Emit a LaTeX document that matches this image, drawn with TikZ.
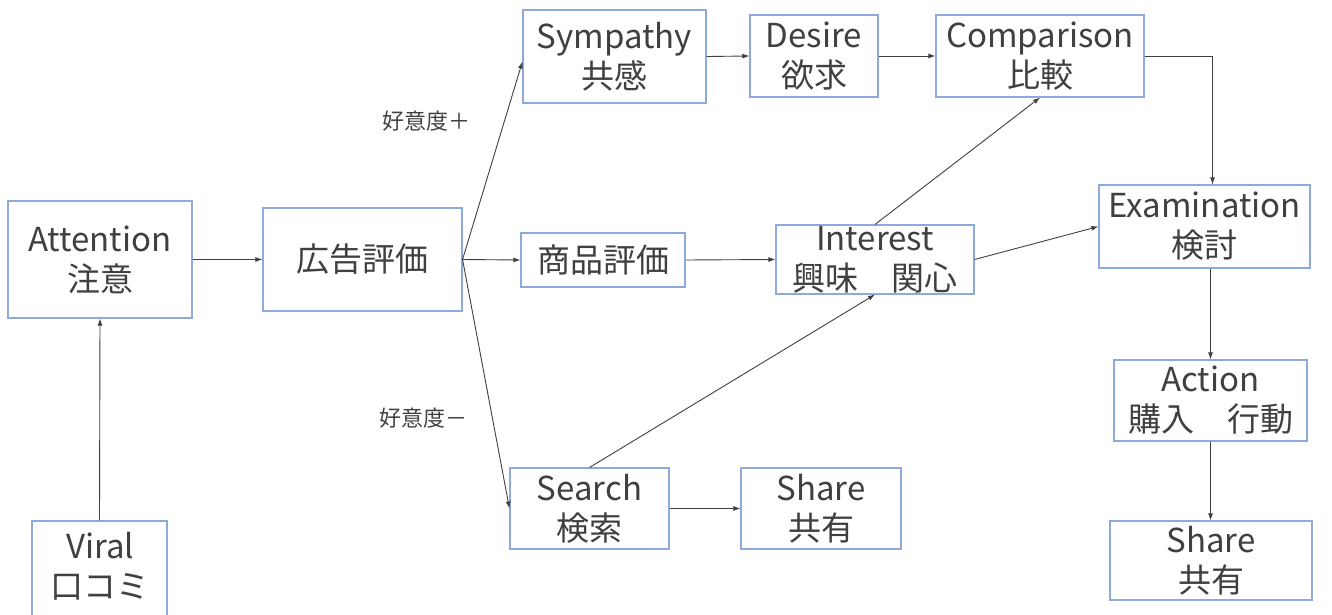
\documentclass[tikz,border=0pt]{standalone}
\usepackage{fontspec}
\setmainfont{Noto Sans CJK JP}
\usetikzlibrary{arrows.meta}
\definecolor{bx}{HTML}{8EA9DB}
\definecolor{tx}{HTML}{404040}
\begin{document}
\begin{tikzpicture}[x=1pt,y=-1pt,
  box/.style={draw=bx, line width=1.1pt, text=tx, align=center, inner sep=0pt,
    font=\fontsize{33}{40}\selectfont},
  vtext/.style={text=tx, align=center, inner sep=0pt, font=\fontsize{33}{40}\selectfont},
  arr/.style={draw=tx, line width=0.9pt, -{Latex[length=7pt,width=5pt]}},
  lbl/.style={text=tx, inner sep=0pt, font=\fontsize{22}{24}\selectfont}]
\useasboundingbox (0,0) rectangle (1332,615);
\clip (0,0) rectangle (1332,615);
\fill[white] (0,0) rectangle (1332,615);

\node[box, minimum width=184pt, minimum height=117pt] (att) at (100,259.5) {Attention\\注意};
\node[box, minimum width=199pt, minimum height=103pt] (ad) at (362.5,259.5) {広告評価};
\node[box, minimum width=183pt, minimum height=93pt] (sym) at (614.5,56.5) {Sympathy\\共感};
\node[box, minimum width=128pt, minimum height=82pt] (des) at (814,56) {Desire\\欲求};
\node[box, minimum width=208pt, minimum height=82pt] (comp) at (1040,56) {Comparison\\比較};
\node[box, minimum width=211pt, minimum height=83pt] (exam) at (1204.5,226.5) {Examination\\検討};
\node[box, minimum width=164pt, minimum height=54pt] (prod) at (603,260) {商品評価};
\node[box, minimum width=198pt, minimum height=69pt] (int) at (875,259.5) {Interest\\興味　関心};
\node[box, minimum width=159pt, minimum height=81pt] (sea) at (589.5,508.5) {Search\\検索};
\node[box, minimum width=160pt, minimum height=81pt] (sh1) at (821,508.5) {Share\\共有};
\node[box, minimum width=193pt, minimum height=81pt] (act) at (1210.5,400.5) {Action\\購入　行動};
\node[box, minimum width=202pt, minimum height=79pt] (sh2) at (1211,560.5) {Share\\共有};
\node[box, minimum width=135pt, minimum height=119pt] (vir) at (99.5,580.5) {};
\node[vtext] (virt) at (100,566) {Viral\\口コミ};

\node[lbl] (lp) at (426,121) {好意度＋};
\node[lbl] (lm) at (423,418) {好意度－};

\draw[arr] (vir.north) -- (att.south);
\draw[arr] (att.east) -- (ad.west);
\draw[arr] (ad.east) -- ([yshift=-5pt]sym.west);
\draw[arr] (ad.east) -- (prod.west);
\draw[arr] (ad.east) -- (sea.west);
\draw[arr] (sym.east) -- (des.west);
\draw[arr] (des.east) -- (comp.west);
\draw[arr] (comp.east) -| ([xshift=8pt]exam.north);
\draw[arr] (prod.east) -- (int.west);
\draw[arr] (int.north) -- (comp.south);
\draw[arr] (int.east) -- (exam.west);
\draw[arr] (sea.north) -- (int.south);
\draw[arr] (sea.east) -- (sh1.west);
\draw[arr] (exam.south -| act.north) -- (act.north);
\draw[arr] (act.south) -- (act.south |- sh2.north);
\end{tikzpicture}
\end{document}
